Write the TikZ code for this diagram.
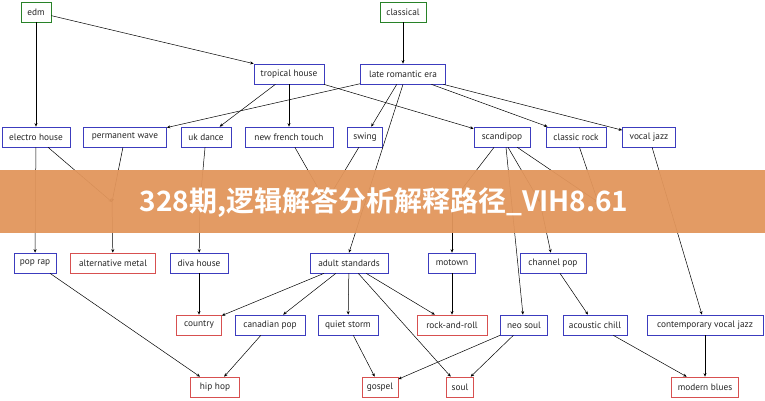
\documentclass[tikz,border=0pt]{standalone}
\usepackage{fontspec}
\setmainfont{PT Sans}
\newfontfamily\cjk{Noto Sans CJK SC Bold}
\usetikzlibrary{arrows.meta}
\definecolor{bl}{RGB}{60,60,190}
\definecolor{rd}{RGB}{215,80,80}
\definecolor{gr}{RGB}{40,130,40}
\definecolor{band}{RGB}{226,150,92}
\tikzset{
 g/.style={draw=#1,line width=0.7pt,fill=white,inner sep=0pt,minimum height=20pt,font=\fontsize{9.3}{10}\selectfont,text=black!85},
 bn/.style={g=bl},rn/.style={g=rd},gn/.style={g=gr},
 e/.style={-{Stealth[length=3.5pt,width=3pt]},line width=0.5pt}
}
\begin{document}
\begin{tikzpicture}[x=1pt,y=-1pt]
\useasboundingbox (0,0) rectangle (765,400);
\node[gn,minimum width=30pt] (edm) at (36,12) {edm};
\node[gn,minimum width=46pt] (cla) at (403,12) {classical};
\node[bn,minimum width=70pt] (tro) at (289,74) {tropical house};
\node[bn,minimum width=85pt] (lre) at (403,74) {late romantic era};
\node[bn,minimum width=68pt] (eh) at (36,137) {electro house};
\node[bn,minimum width=83pt] (pw) at (125,137) {permanent wave};
\node[bn,minimum width=50pt] (ukd) at (206,137) {uk dance};
\node[bn,minimum width=88pt] (nft) at (289,137) {new french touch};
\node[bn,minimum width=35pt] (sw) at (365,137) {swing};
\node[bn,minimum width=56pt] (sc) at (502,137) {scandipop};
\node[bn,minimum width=60pt] (cr) at (576,137) {classic rock};
\node[bn,minimum width=53pt] (vj) at (649,137) {vocal jazz};
\coordinate (pg) at (112,202);
\coordinate (dh) at (200,202);
\coordinate (nj) at (326,202);
\coordinate (hx) at (452,202);
\coordinate (vp) at (540,202);
\coordinate (rg) at (598,202);
\node[bn,minimum width=42pt] (pr) at (35,263) {pop rap};
\node[rn,minimum width=85pt] (am) at (113,263) {alternative metal};
\node[bn,minimum width=58pt] (dv) at (199,263) {diva house};
\node[bn,minimum width=78pt] (as) at (349,263) {adult standards};
\node[bn,minimum width=47pt] (mo) at (452,263) {motown};
\node[bn,minimum width=66pt] (cp) at (553,263) {channel pop};
\node[rn,minimum width=45pt] (co) at (199,325) {country};
\node[bn,minimum width=70pt] (cap) at (270,325) {canadian pop};
\node[bn,minimum width=60pt] (qs) at (348,325) {quiet storm};
\node[rn,minimum width=70pt] (rr) at (452,325) {rock-and-roll};
\node[bn,minimum width=47pt] (ns) at (524,325) {neo soul};
\node[bn,minimum width=64pt] (ac) at (595,325) {acoustic chill};
\node[bn,minimum width=116pt] (cvj) at (705,325) {contemporary vocal jazz};
\node[rn,minimum width=49pt] (hh) at (215,387) {hip hop};
\node[rn,minimum width=36pt] (go) at (380,387) {gospel};
\node[rn,minimum width=27pt] (so) at (460,387) {soul};
\node[rn,minimum width=67pt] (mb) at (705,387) {modern blues};
\draw[e] (edm) -- (eh);
\draw[e] (edm) -- (tro.north west);
\draw[e] (cla) -- (lre);
\draw[e] (tro) -- (ukd);
\draw[e] (tro) -- (nft);
\draw[e] (tro) -- (sc);
\draw[e] (lre) -- (pw);
\draw[e] (lre) -- (sw);
\draw[e] (lre.south) -- (as.north);
\draw[e] (lre) -- (cr);
\draw[e] (lre) -- (vj);
\draw[e] (eh) -- (pr);
\draw[e] (eh) -- (pg);
\draw[e] (pw) -- (pg);
\draw[e] (pg) -- (am);
\draw[e] (ukd) -- (dh);
\draw[e] (dh) -- (dv);
\draw[e] (nft) -- (nj);
\draw[e] (sw) -- (nj);
\draw[e] (sc) -- (hx);
\draw[e] (hx) -- (mo);
\draw[e] (sc) -- (vp);
\draw[e] (sc) -- (rg);
\draw[e] (sc.south) ++(4,0) coordinate (scs) (scs) -- (ns);
\draw[e] (cr) -- (rg);
\draw[e] (vp) -- (cp);
\draw[e] (vj) -- (cvj);
\draw[e] (pr) -- (hh);
\draw[e] (dv) -- (co);
\draw[e] (as) -- (co);
\draw[e] (as) -- (cap);
\draw[e] (as) -- (qs);
\draw[e] (as) -- (so);
\draw[e] (as) -- (rr);
\draw[e] (mo) -- (rr);
\draw[e] (cp) -- (ac);
\draw[e] (cap) -- (hh);
\draw[e] (qs) -- (go);
\draw[e] (ns) -- (go);
\draw[e] (ns) -- (so);
\draw[e] (ac) -- (mb);
\draw[e] (cvj) -- (mb);
\fill[band,opacity=0.95] (0,170) rectangle (765,233);
\node[text=white,font=\cjk\fontsize{28}{30}\selectfont] (ban) at (384,202) {328期,逻辑解答分析解释路径\_VIH8.61};
\end{tikzpicture}
\end{document}
